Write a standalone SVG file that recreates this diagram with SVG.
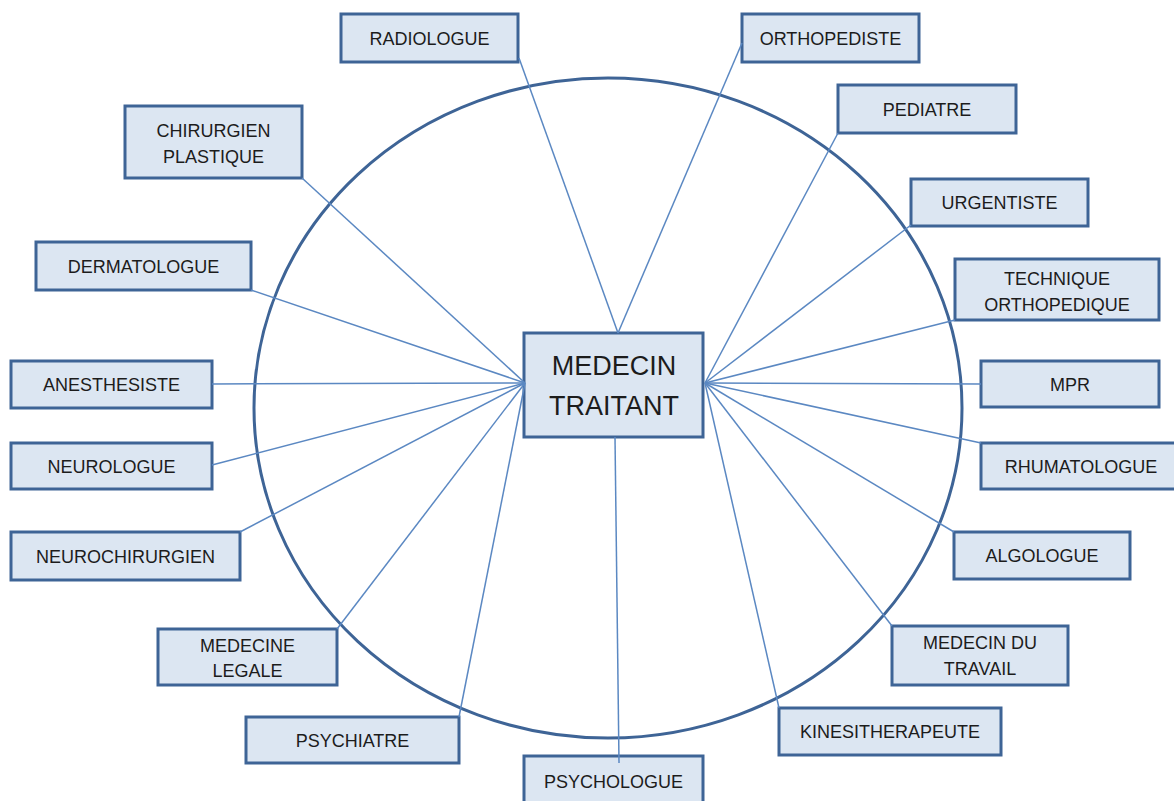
<svg xmlns="http://www.w3.org/2000/svg" width="1174" height="801" viewBox="0 0 1174 801">
<style>
.box{fill:#dce6f2;stroke:#3e6496;stroke-width:3}
.lbl{font-family:"Liberation Sans",Arial,sans-serif;font-size:18px;fill:#1c1c1c;text-anchor:middle}
.big{font-family:"Liberation Sans",Arial,sans-serif;font-size:27px;fill:#1c1c1c;text-anchor:middle}
.con{stroke:#5b88c2;stroke-width:1.5;fill:none}
</style>
<rect width="1174" height="801" fill="#ffffff"/>
<ellipse cx="608" cy="408" rx="354" ry="330" fill="none" stroke="#3e6496" stroke-width="3"/>
<g id="n-center"><rect class="box" x="524" y="333" width="179" height="104"/><text class="big" x="614" y="375">MEDECIN</text><text class="big" x="614" y="415">TRAITANT</text></g>
<g id="n-radiologue"><rect class="box" x="341" y="14" width="177" height="48"/><text class="lbl" x="429.5" y="44.5">RADIOLOGUE</text></g>
<g id="n-orthopediste"><rect class="box" x="742" y="14" width="177" height="48"/><text class="lbl" x="830.5" y="44.5">ORTHOPEDISTE</text></g>
<g id="n-pediatre"><rect class="box" x="838" y="85" width="178" height="48"/><text class="lbl" x="927" y="115.5">PEDIATRE</text></g>
<g id="n-urgentiste"><rect class="box" x="911" y="179" width="177" height="47"/><text class="lbl" x="999.5" y="208.5">URGENTISTE</text></g>
<g id="n-chirurgien"><rect class="box" x="125" y="106" width="177" height="72"/><text class="lbl" x="213.5" y="137">CHIRURGIEN</text><text class="lbl" x="213.5" y="163">PLASTIQUE</text></g>
<g id="n-dermatologue"><rect class="box" x="36" y="242" width="215" height="48"/><text class="lbl" x="143.5" y="272.5">DERMATOLOGUE</text></g>
<g id="n-technique"><rect class="box" x="955" y="259" width="204" height="61"/><text class="lbl" x="1057" y="285">TECHNIQUE</text><text class="lbl" x="1057" y="311">ORTHOPEDIQUE</text></g>
<g id="n-anesthesiste"><rect class="box" x="11" y="361" width="201" height="47"/><text class="lbl" x="111.5" y="390.5">ANESTHESISTE</text></g>
<g id="n-mpr"><rect class="box" x="981" y="361" width="178" height="46"/><text class="lbl" x="1070" y="390.5">MPR</text></g>
<g id="n-neurologue"><rect class="box" x="11" y="443" width="201" height="46"/><text class="lbl" x="111.5" y="472.5">NEUROLOGUE</text></g>
<g id="n-rhumatologue"><rect class="box" x="981" y="443" width="200" height="46"/><text class="lbl" x="1081" y="472.5">RHUMATOLOGUE</text></g>
<g id="n-neurochirurgien"><rect class="box" x="11" y="532" width="229" height="48"/><text class="lbl" x="125.5" y="562.5">NEUROCHIRURGIEN</text></g>
<g id="n-algologue"><rect class="box" x="954" y="532" width="176" height="47"/><text class="lbl" x="1042" y="562">ALGOLOGUE</text></g>
<g id="n-medecine-legale"><rect class="box" x="158" y="629" width="179" height="56"/><text class="lbl" x="247.5" y="652">MEDECINE</text><text class="lbl" x="247.5" y="677">LEGALE</text></g>
<g id="n-medecin-travail"><rect class="box" x="892" y="626" width="176" height="59"/><text class="lbl" x="980" y="649">MEDECIN DU</text><text class="lbl" x="980" y="675">TRAVAIL</text></g>
<g id="n-psychiatre"><rect class="box" x="246" y="717" width="213" height="46"/><text class="lbl" x="352.5" y="746.5">PSYCHIATRE</text></g>
<g id="n-kinesitherapeute"><rect class="box" x="779" y="708" width="222" height="47"/><text class="lbl" x="890" y="738">KINESITHERAPEUTE</text></g>
<g id="n-psychologue"><rect class="box" x="524" y="756" width="179" height="60"/><text class="lbl" x="613.5" y="788">PSYCHOLOGUE</text></g>
<g id="connectors">
<path class="con" d="M519,58 L618,333"/>
<path class="con" d="M742,43 L618,333"/>
<path class="con" d="M838,133 L705,383"/>
<path class="con" d="M911,225 L705,383"/>
<path class="con" d="M955,320 L705,383"/>
<path class="con" d="M981,384 L705,383"/>
<path class="con" d="M981,443 L705,383"/>
<path class="con" d="M954,532 L705,383"/>
<path class="con" d="M892,626 L705,383"/>
<path class="con" d="M779,708 L705,383"/>
<path class="con" d="M615,437 L619,763"/>
<path class="con" d="M459,717 L525,383"/>
<path class="con" d="M337,629 L525,383"/>
<path class="con" d="M240,532 L525,383"/>
<path class="con" d="M212,465 L525,383"/>
<path class="con" d="M212,384 L525,383"/>
<path class="con" d="M251,290 L525,383"/>
<path class="con" d="M302,178 L525,383"/>
</g>
</svg>
